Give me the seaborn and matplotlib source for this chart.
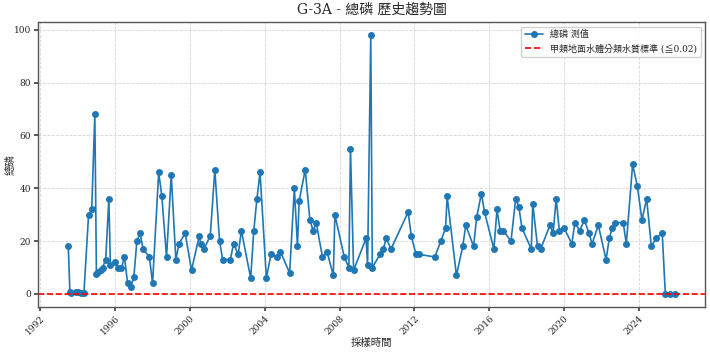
import matplotlib
matplotlib.use("Agg")
import matplotlib.pyplot as plt
import matplotlib.dates as mdates
import seaborn as sns
import pandas as pd

dates = [
    "1993-07", "1993-08", "1993-09", "1993-12", "1994-01", "1994-03", "1994-05",
    "1994-08", "1994-10", "1994-12", "1995-01", "1995-02", "1995-04", "1995-05",
    "1995-07", "1995-09", "1995-10", "1996-01", "1996-03", "1996-05", "1996-07",
    "1996-09", "1996-11", "1997-01", "1997-03", "1997-05", "1997-07", "1997-11",
    "1998-01", "1998-05", "1998-07", "1998-10", "1999-01", "1999-04", "1999-06",
    "1999-10", "2000-02", "2000-07", "2000-08", "2000-10", "2001-02", "2001-05",
    "2001-08", "2001-10", "2002-03", "2002-05", "2002-08", "2002-10", "2003-04",
    "2003-06", "2003-08", "2003-10", "2004-02", "2004-05", "2004-09", "2004-11",
    "2005-05", "2005-08", "2005-10", "2005-11", "2006-03", "2006-06", "2006-08",
    "2006-10", "2007-02", "2007-05", "2007-09", "2007-10", "2008-04", "2008-07",
    "2008-08", "2008-10", "2009-06", "2009-07", "2009-09", "2009-10", "2010-03",
    "2010-05", "2010-07", "2010-10", "2011-09", "2011-11", "2012-02", "2012-04",
    "2013-02", "2013-06", "2013-09", "2013-10", "2014-04", "2014-08", "2014-10",
    "2015-03", "2015-05", "2015-08", "2015-10", "2016-04", "2016-06", "2016-08",
    "2016-10", "2017-03", "2017-06", "2017-08", "2017-10", "2018-04", "2018-05",
    "2018-08", "2018-10", "2019-04", "2019-06", "2019-08", "2019-10", "2020-01",
    "2020-06", "2020-08", "2020-11", "2021-02", "2021-05", "2021-07", "2021-11",
    "2022-04", "2022-06", "2022-08", "2022-10", "2023-03", "2023-05", "2023-09",
    "2023-12", "2024-03", "2024-06", "2024-09", "2024-12", "2025-04", "2025-06",
    "2025-09", "2025-12",
]
values = [
    18, 0.8, 0.3, 0.8, 0.6, 0.4, 0.2,
    30, 32, 68, 7.5, 8.4, 9.2, 10,
    13, 36, 11, 12, 10, 9.7, 14,
    4, 2.5, 6.5, 20, 23, 17, 14,
    4, 46, 37, 14, 45, 13, 19,
    23, 9, 22, 19, 17, 22, 47,
    20, 13, 13, 19, 15, 24, 6,
    24, 36, 46, 6, 15, 14, 16,
    8, 40, 18, 35, 47, 28, 24,
    27, 14, 16, 7, 30, 14, 10,
    55, 9, 21, 11, 98, 10, 15,
    17, 21, 17, 31, 22, 15, 15,
    14, 20, 25, 37, 7, 18, 26,
    18, 29, 38, 31, 17, 32, 24,
    24, 20, 36, 33, 25, 17, 34,
    18, 17, 26, 23, 36, 24, 25,
    19, 27, 24, 28, 23, 19, 26,
    13, 21, 25, 27, 27, 19, 49,
    41, 28, 36, 18, 21, 23, 0,
    0, 0,
]
standard = 0.02
title = "G-3A - 總磷 歷史趨勢圖"
series_label = "總磷 測值"
standard_label = "甲類地面水體分類水質標準 (≦0.02)"
x_label = "採樣時間"
y_label = "總磷"

df = pd.DataFrame({"date": pd.to_datetime(dates), "value": values})

sns.set_theme(style="ticks")
plt.rcParams["font.family"] = ["DejaVu Serif", "Noto Sans CJK TC"]
plt.rcParams["axes.unicode_minus"] = False

fig = plt.figure(figsize=(7.1, 3.52), dpi=100)
ax = fig.add_axes([0.0535, 0.128, 0.9395, 0.8095])

sns.lineplot(data=df, x="date", y="value", marker="o", markersize=5,
             markeredgewidth=0, color="#1f77b4", linewidth=1.2,
             label=series_label, ax=ax, sort=False)
ax.axhline(standard, color="red", linestyle="--", linewidth=1.2, label=standard_label)

ax.xaxis.set_major_locator(mdates.YearLocator(4))
ax.xaxis.set_major_formatter(mdates.DateFormatter("%Y"))
for lbl in ax.get_xticklabels():
    lbl.set_rotation(45)
    lbl.set_ha("right")
    lbl.set_rotation_mode("anchor")
ax.tick_params(labelsize=6.5, length=3, pad=2, color="#444444")

ax.grid(True, linestyle="--", color="#cccccc", linewidth=0.6, alpha=0.8)
for s in ax.spines.values():
    s.set_color("#555555")
    s.set_linewidth(1.0)

ax.set_title(title, fontsize=10, pad=6)
ax.set_xlabel(x_label, fontsize=7.5, labelpad=1)
ax.set_ylabel(y_label, fontsize=7.5)
ax.yaxis.set_label_coords(-0.033, 0.5)
ax.legend(loc="upper right", fontsize=6.5, framealpha=0.9)

fig.savefig("out.png", dpi=100)
